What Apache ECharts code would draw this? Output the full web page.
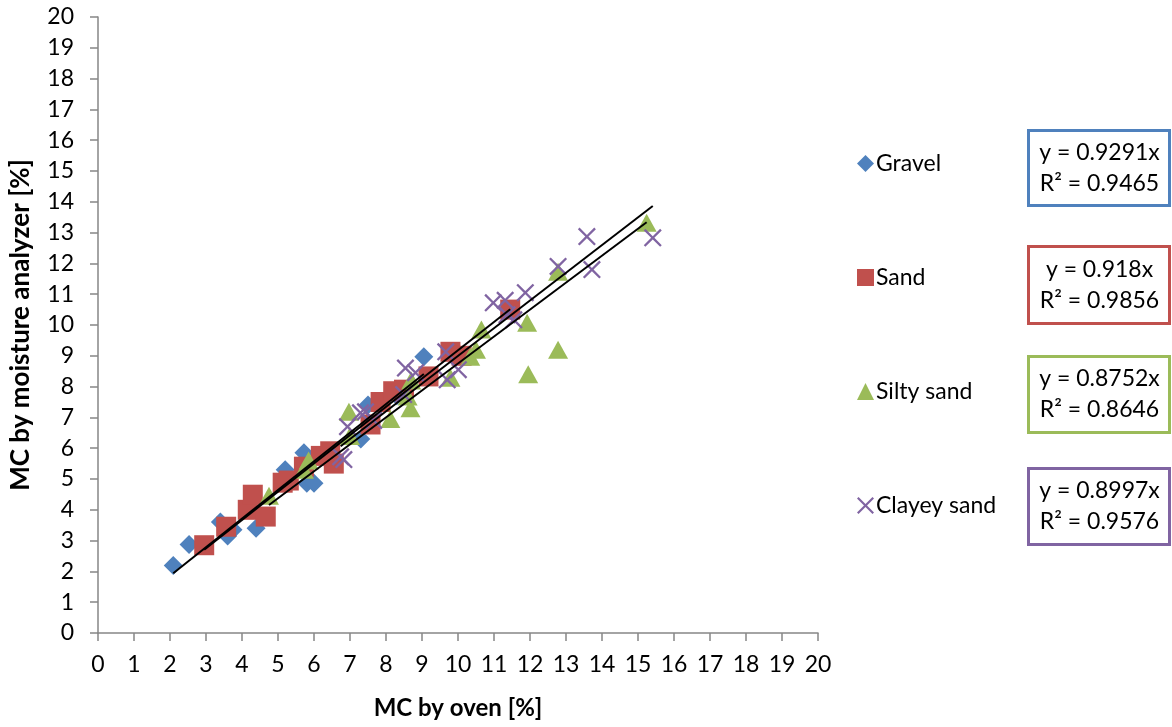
<!DOCTYPE html>
<html><head><meta charset="utf-8">
<script src="https://cdn.jsdelivr.net/npm/echarts@6/dist/echarts.min.js"></script>
<style>html,body{margin:0;padding:0;background:#fff}#c{width:1172px;height:727px}</style>
</head><body><div id="c"></div>
<script>
const seriesNames = ['Gravel', 'Sand', 'Silty sand', 'Clayey sand'];
const gravel = [[2.09,2.19],[2.53,2.87],[3.4,3.6],[3.6,3.15],[3.75,3.35],[4.39,3.4],[5.2,5.3],[5.72,5.85],[5.8,4.86],[6.0,4.86],[6.4,5.6],[7.3,6.3],[7.5,7.4],[8.3,7.7],[9.05,8.97]];
const sand = [[2.95,2.85],[3.56,3.45],[4.16,4.0],[4.3,4.49],[4.66,3.78],[5.13,4.88],[5.3,4.95],[5.72,5.4],[6.19,5.75],[6.55,5.5],[6.45,5.9],[7.57,6.77],[7.85,7.5],[8.2,7.85],[8.5,7.9],[9.18,8.33],[9.79,9.13],[10.1,9.0],[11.45,10.5]];
const siltySand = [[4.75,4.46],[5.72,5.3],[5.85,5.6],[6.97,7.18],[7.0,6.4],[8.12,6.95],[8.6,7.68],[8.7,8.2],[8.68,7.3],[9.79,8.29],[10.34,8.97],[10.5,9.2],[10.65,9.85],[11.92,10.07],[11.95,8.4],[12.78,11.73],[12.78,9.2],[15.24,13.32]];
const clayeySand = [[6.74,5.72],[6.83,5.63],[6.93,6.7],[7.29,7.15],[7.43,7.18],[7.66,6.9],[8.49,7.74],[8.54,8.6],[8.82,8.45],[9.66,9.13],[9.7,8.22],[10.01,8.55],[10.98,10.72],[11.31,10.8],[11.36,10.33],[11.55,10.17],[11.87,11.05],[12.78,11.9],[13.58,12.87],[13.72,11.8],[15.41,12.83]];
const slopes = [0.9291, 0.918, 0.8752, 0.8997];
const rSquared = ['0.9465', '0.9856', '0.8646', '0.9576'];
const equations = ['y = 0.9291x', 'y = 0.918x', 'y = 0.8752x', 'y = 0.8997x'];
const xTitle = 'MC by oven [%]';
const yTitle = 'MC by moisture analyzer [%]';

const colors = ['#4F81BD', '#C0504D', '#9BBB59', '#8064A2'];
const allData = [gravel, sand, siltySand, clayeySand];
const FONT = 'Lato';
const xSym = 'path://M0,0.09 L0.09,0 L0.5,0.41 L0.91,0 L1,0.09 L0.59,0.5 L1,0.91 L0.91,1 L0.5,0.59 L0.09,1 L0,0.91 L0.41,0.5 Z';
const symbols = ['diamond', 'rect', 'triangle', xSym];
const sizes = [[19,19], [20,20], [20,18], [18,18]];

const series = [];
allData.forEach((d, i) => {
  series.push({
    name: seriesNames[i], type: 'scatter', data: d,
    symbol: symbols[i], symbolSize: sizes[i],
    itemStyle: { color: colors[i], opacity: 1 }, z: 2 + i
  });
});
allData.forEach((d, i) => {
  const xs = d.map(p => p[0]);
  const x0 = Math.min(...xs), x1 = Math.max(...xs);
  series.push({
    name: 'trend' + i, type: 'line', data: [[x0, slopes[i] * x0], [x1, slopes[i] * x1]],
    showSymbol: false, symbol: 'none', lineStyle: { color: '#000', width: 2 }, z: 10, silent: true
  });
});

const boxes = [
  { top: 129, h: 75 }, { top: 245, h: 77 }, { top: 355, h: 76 }, { top: 467, h: 76 }
];
const graphic = boxes.map((b, i) => ({
  type: 'group', left: 1027, top: b.top,
  children: [
    { type: 'rect', shape: { x: 0, y: 0, width: 141, height: b.h }, style: { fill: '#fff', stroke: colors[i], lineWidth: 3 } },
    { type: 'text', x: 71, y: b.h / 2, style: { text: equations[i] + '\nR² = ' + rSquared[i], font: '23px ' + FONT, fill: '#000', align: 'center', verticalAlign: 'middle', lineHeight: 31 } }
  ]
}));

const chart = echarts.init(document.getElementById('c'), null, { renderer: 'canvas' });
chart.setOption({
  animation: false,
  backgroundColor: '#fff',
  grid: { left: 97, top: 17, right: 354, bottom: 94, containLabel: false },
  xAxis: {
    type: 'value', min: 0, max: 20, interval: 1,
    name: xTitle, nameLocation: 'middle', nameGap: 63,
    nameTextStyle: { fontFamily: FONT, fontWeight: 'bold', fontSize: 24, color: '#000' },
    axisLine: { lineStyle: { color: '#868686', width: 1.5 } },
    axisTick: { show: true, length: 8, inside: false, lineStyle: { color: '#868686', width: 1.5 } },
    axisLabel: { fontFamily: FONT, fontSize: 23, color: '#000', margin: 20 },
    splitLine: { show: false }
  },
  yAxis: {
    type: 'value', min: 0, max: 20, interval: 1,
    name: yTitle, nameLocation: 'middle', nameGap: 64, nameRotate: 90,
    nameTextStyle: { fontFamily: FONT, fontWeight: 'bold', fontSize: 26, color: '#000' },
    axisLine: { show: true, lineStyle: { color: '#868686', width: 1.5 } },
    axisTick: { show: true, length: 8, lineStyle: { color: '#868686', width: 1.5 } },
    axisLabel: { fontFamily: FONT, fontSize: 23, color: '#000', margin: 24 },
    splitLine: { show: false }
  },
  legend: {
    data: seriesNames.map((n, i) => ({ name: n, icon: symbols[i] })),
    orient: 'vertical', left: 852, top: 147,
    itemWidth: 17, itemHeight: 17, itemGap: 91,
    textStyle: { fontFamily: FONT, fontSize: 23, color: '#000', padding: [0, 0, 0, -3] }
  },
  graphic: graphic,
  series: series
});
</script></body></html>
